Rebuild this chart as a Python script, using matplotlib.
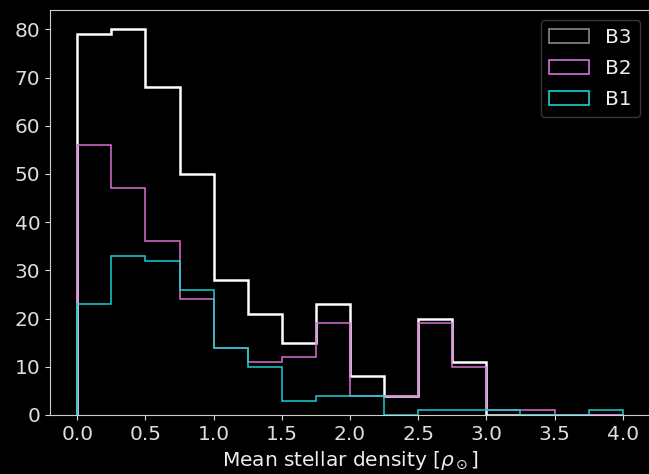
import numpy as np
import matplotlib
matplotlib.use("Agg")
import matplotlib.pyplot as plt
from matplotlib.patches import Patch

bin_edges = np.arange(0, 4.0001, 0.25)
b3_counts = [79, 80, 68, 50, 28, 21, 15, 23, 8, 4, 20, 11, 0, 0, 0, 0]
b2_counts = [56, 47, 36, 24, 14, 11, 12, 19, 4, 4, 19, 10, 1, 1, 0, 0]
b1_counts = [23, 33, 32, 26, 14, 10, 3, 4, 4, 0, 1, 1, 1, 0, 0, 1]
labels = ["B3", "B2", "B1"]
colors = ["white", "orchid", "#1ad0d0"]

plt.style.use("dark_background")
fig = plt.figure(figsize=(6.49, 4.74), dpi=100)
ax = fig.add_axes([50/649, 59/474, 600/649, 405/474])

centers = (bin_edges[:-1] + bin_edges[1:]) / 2
ax.hist(centers, bins=bin_edges, weights=b3_counts, histtype="step", color=colors[0], lw=1.8)
ax.hist(centers, bins=bin_edges, weights=b2_counts, histtype="step", color=colors[1], lw=1.1)
ax.hist(centers, bins=bin_edges, weights=b1_counts, histtype="step", color=colors[2], lw=1.1)

ax.set_xlim(-0.2, 4.2)
ax.set_ylim(0, 84)
ax.set_xticks(np.arange(0, 4.01, 0.5))
ax.set_yticks(np.arange(0, 81, 10))
ax.tick_params(labelsize=14.5, colors="#dddddd")
for s in ax.spines.values():
    s.set_color("#cccccc")
ax.set_xlabel(r"Mean stellar density [$\rho_\odot$]", fontsize=14.5, color="#eeeeee", labelpad=4)

handles = [Patch(facecolor="none", edgecolor="#888888", lw=1.2),
           Patch(facecolor="none", edgecolor=colors[1], lw=1.2),
           Patch(facecolor="none", edgecolor=colors[2], lw=1.2)]
leg = ax.legend(handles, labels, loc="upper right", fontsize=14.5, framealpha=0.8,
                facecolor="black", edgecolor="#444444", labelspacing=0.6)
for t in leg.get_texts():
    t.set_color("#eeeeee")

fig.savefig("out.png", dpi=100)
